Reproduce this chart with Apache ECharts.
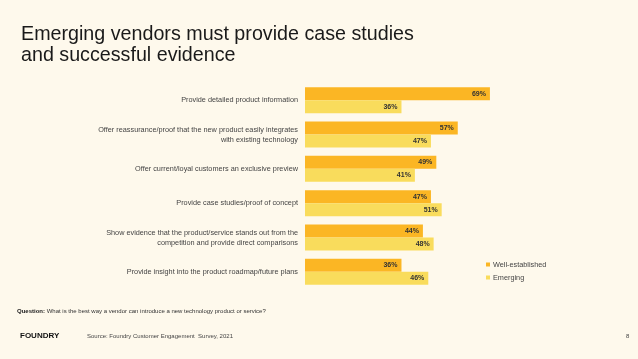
<!DOCTYPE html>
<html><head><meta charset="utf-8">
<script src="https://cdn.jsdelivr.net/npm/echarts@6/dist/echarts.min.js"></script>
<style>html,body{margin:0;padding:0;background:#FEF9EC;}#c{width:638px;height:359px;}</style>
</head><body><div id="c"></div>
<script>
const categories = [
  "Provide detailed product information",
  "Offer reassurance/proof that the new product easily integrates\nwith existing technology",
  "Offer current/loyal customers an exclusive preview",
  "Provide case studies/proof of concept",
  "Show evidence that the product/service stands out from the\ncompetition and provide direct comparisons",
  "Provide insight into the product roadmap/future plans"
];
const seriesNames = ["Well-established", "Emerging"];
const wellEstablished = [69, 57, 49, 47, 44, 36];
const emerging = [36, 47, 41, 51, 48, 46];

const chart = echarts.init(document.getElementById('c'), null, {renderer: 'canvas'});
const font = 'Liberation Sans, Arial, sans-serif';
const lbl = {show: true, position: 'insideRight', formatter: '{c}%', fontSize: 7, fontWeight: 'bold', color: '#333', fontFamily: font, distance: 4};
chart.setOption({
  backgroundColor: '#FEF9EC',
  animation: false,
  textStyle: {fontFamily: font},
  grid: {left: 305, top: 83, width: 268, height: 206, containLabel: false},
  xAxis: {type: 'value', min: 0, max: 100, show: false},
  yAxis: {type: 'category', data: categories, inverse: true,
    axisLine: {show: false}, axisTick: {show: false},
    axisLabel: {fontSize: 7.3, color: '#444', margin: 7, lineHeight: 10, align: 'right', fontFamily: font}},
  legend: {orient: 'vertical', left: 486, top: 261, padding: 0, itemWidth: 4, itemHeight: 4, itemGap: 6,
    icon: 'rect', textStyle: {fontSize: 7.3, color: '#444', fontFamily: font, padding: [0,0,0,-2]}, data: seriesNames},
  series: [
    {name: seriesNames[0], type: 'bar', data: wellEstablished, barWidth: 13, barGap: '0%', itemStyle: {color: '#FBB624'}, label: lbl},
    {name: seriesNames[1], type: 'bar', data: emerging, barWidth: 13, barGap: '0%', itemStyle: {color: '#F9DC5C'}, label: lbl}
  ],
  graphic: [
    {type: 'text', left: 21, top: 24, style: {text: 'Emerging vendors must provide case studies\nand successful evidence', font: '19.7px ' + font, fill: '#1a1a1a', lineHeight: 21}},
    {type: 'text', left: 17, top: 308, style: {text: '{b|Question:} What is the best way a vendor can introduce a new technology product or service?', rich: {b: {fontWeight: 'bold', fontSize: 6, fill: '#222', fontFamily: font}}, fontSize: 6, fill: '#333', fontFamily: font}},
    {type: 'text', left: 20, top: 332, style: {text: 'FOUNDRY', font: 'bold 8px ' + font, fill: '#111'}},
    {type: 'text', left: 87, top: 333, style: {text: 'Source: Foundry Customer Engagement  Survey, 2021', font: '6px ' + font, fill: '#444'}},
    {type: 'text', left: 626, top: 333, style: {text: '8', font: '6px ' + font, fill: '#444'}}
  ]
});
</script></body></html>
